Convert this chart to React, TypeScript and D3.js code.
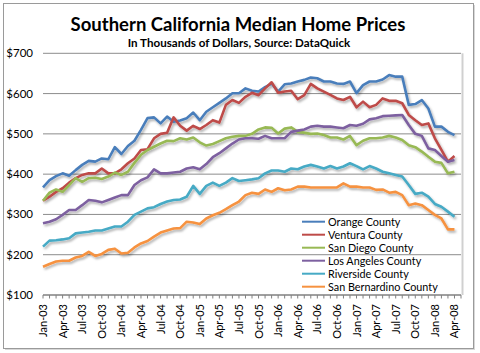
import React from 'react';
import * as d3 from 'd3';

// monthly categories Jan-03 .. May-08 (last one is empty on the axis)
const months: string[] = d3.timeMonth
  .range(new Date(2003, 0, 1), new Date(2008, 5, 1))
  .map(d3.timeFormat('%b-%y'));

const tickLabels = [
  'Jan-03', 'Apr-03', 'Jul-03', 'Oct-03', 'Jan-04', 'Apr-04', 'Jul-04', 'Oct-04',
  'Jan-05', 'Apr-05', 'Jul-05', 'Oct-05', 'Jan-06', 'Apr-06', 'Jul-06', 'Oct-06',
  'Jan-07', 'Apr-07', 'Jul-07', 'Oct-07', 'Jan-08', 'Apr-08',
];

const yTicks = [100, 200, 300, 400, 500, 600, 700];

const seriesNames = [
  'Orange County', 'Ventura County', 'San Diego County',
  'Los Angeles County', 'Riverside County', 'San Bernardino County',
];
const seriesColors = ['#4a7ebb', '#be4b48', '#98b954', '#7d60a0', '#46aac5', '#f69240'];

const orangeCounty = [
  367, 385, 395, 402, 396, 410, 423, 433, 431, 439, 437, 467, 450, 470, 483, 510, 539, 541, 526, 543, 530,
  533, 539, 553, 534, 555, 566, 577, 588, 601, 601, 613, 607, 605, 616, 625, 605, 623, 625, 630, 634, 640,
  638, 630, 630, 625, 624, 630, 601, 621, 630, 630, 635, 646, 642, 642, 572, 574, 584, 563, 518, 518, 505, 497,
];
const venturaCounty = [
  334, 344, 356, 365, 379, 390, 398, 402, 402, 414, 402, 402, 412, 427, 439, 460, 462, 489, 500, 503, 541,
  520, 508, 520, 512, 522, 534, 528, 572, 584, 577, 592, 602, 596, 613, 628, 602, 605, 607, 586, 596, 624,
  613, 605, 597, 588, 584, 592, 566, 580, 566, 572, 588, 582, 582, 576, 547, 534, 522, 526, 489, 460, 431, 445,
];
const sanDiegoCounty = [
  334, 354, 362, 356, 373, 390, 381, 390, 391, 388, 394, 404, 398, 406, 428, 448, 460, 468, 476, 483, 482,
  489, 486, 491, 479, 471, 475, 482, 489, 493, 495, 495, 500, 511, 516, 515, 501, 513, 516, 505, 503, 500,
  501, 497, 491, 491, 486, 495, 472, 483, 489, 489, 491, 495, 491, 485, 472, 467, 456, 443, 431, 428, 402, 406,
];
const losAngelesCounty = [
  278, 282, 288, 299, 311, 311, 323, 336, 334, 330, 336, 342, 348, 348, 373, 385, 392, 412, 402, 402, 404,
  406, 414, 417, 412, 425, 442, 452, 464, 476, 486, 489, 489, 488, 495, 489, 489, 489, 505, 508, 511, 518,
  520, 518, 518, 516, 514, 522, 520, 525, 536, 539, 544, 545, 546, 547, 522, 500, 495, 464, 460, 445, 431, 435,
];
const riversideCounty = [
  220, 235, 236, 238, 241, 253, 255, 257, 260, 260, 265, 270, 270, 282, 299, 307, 315, 318, 326, 332, 336,
  337, 344, 371, 351, 371, 379, 371, 379, 390, 383, 385, 387, 390, 402, 409, 409, 406, 414, 412, 419, 423,
  419, 414, 420, 414, 419, 427, 420, 412, 420, 414, 406, 402, 398, 394, 373, 351, 354, 344, 326, 319, 307, 294,
];
const sanBernardinoCounty = [
  170, 177, 183, 185, 185, 193, 197, 207, 197, 202, 212, 215, 203, 205, 218, 228, 234, 245, 255, 260, 265,
  266, 282, 280, 276, 290, 298, 304, 313, 323, 332, 348, 354, 351, 362, 356, 365, 360, 362, 369, 369, 367,
  367, 367, 367, 367, 377, 369, 369, 367, 367, 361, 362, 354, 356, 348, 323, 327, 323, 311, 299, 290, 263, 263,
];

const seriesValues = [
  orangeCounty, venturaCounty, sanDiegoCounty,
  losAngelesCounty, riversideCounty, sanBernardinoCounty,
];

const W = 480;
const H = 353;
const font = 'Lato, "Noto Sans", sans-serif';

export default function App() {
  const left = 43;
  const right = 461;
  const top = 53.3;
  const bottom = 295;

  const x = d3.scalePoint<string>().domain(months).range([left, right]);
  const y = d3.scaleLinear().domain([100, 700]).range([bottom, top]);

  const line = d3
    .line<number>()
    .x((_, i) => x(months[i]) ?? 0)
    .y(d => y(d));

  return (
    <svg
      width={W}
      height={H}
      style={{ position: 'absolute', left: 0, top: 0, background: '#fff' }}
      fontFamily={font}
    >
      <defs>
        <filter id="shadow" x="-5%" y="-5%" width="110%" height="120%">
          <feDropShadow dx="1.5" dy="2" stdDeviation="1.2" floodColor="#000" floodOpacity="0.3" />
        </filter>
      </defs>

      {/* chart frame */}
      <rect x={5} y={5} width={470} height={345} fill="#d8d8d8" />
      <rect x={3.5} y={3.5} width={470} height={345} fill="#fff" stroke="#9a9a9a" />

      {/* title */}
      <text x={238} y={31} textAnchor="middle" fontWeight="bold" fontSize={18.5} fill="#000">
        Southern California Median Home Prices
      </text>
      <text x={239} y={47} textAnchor="middle" fontWeight="bold" fontSize={11.6} fill="#000">
        In Thousands of Dollars, Source: DataQuick
      </text>

      {/* plot area edge */}
      <line x1={right + 1.5} x2={right + 1.5} y1={top} y2={bottom} stroke="#d0d0d0" strokeWidth={2} />

      {/* gridlines and y labels */}
      {yTicks.map(t => (
        <g key={t}>
          {t > 100 && (
            <line x1={left} x2={right} y1={y(t)} y2={y(t)} stroke="#8c8c8c" strokeWidth={1} />
          )}
          <text x={33} y={y(t) + 4} textAnchor="end" fontSize={11.5} fill="#000">
            ${t}
          </text>
        </g>
      ))}

      {/* x axis */}
      <line x1={left} x2={right} y1={bottom} y2={bottom} stroke="#808080" strokeWidth={1.5} />
      {months.map(m => (
        <line key={m} x1={x(m)} x2={x(m)} y1={bottom} y2={bottom + 3.5} stroke="#808080" />
      ))}
      {tickLabels.map(m => (
        <text
          key={m}
          transform={`translate(${(x(m) ?? 0) + 4},${bottom + 9}) rotate(-90)`}
          textAnchor="end"
          fontSize={11}
          fill="#000"
        >
          {m}
        </text>
      ))}

      {/* series */}
      <g filter="url(#shadow)">
        {seriesValues.map((vals, k) => (
          <path
            key={seriesNames[k]}
            d={line(vals) ?? ''}
            fill="none"
            stroke={seriesColors[k]}
            strokeWidth={2.6}
            strokeLinejoin="round"
          />
        ))}
      </g>

      {/* legend */}
      {seriesNames.map((name, k) => (
        <g key={name} transform={`translate(302,${221.7 + k * 13})`}>
          <line x1={0} x2={23} y1={0} y2={0} stroke={seriesColors[k]} strokeWidth={2} />
          <text x={26} y={4} fontSize={10.8} fill="#000">
            {name}
          </text>
        </g>
      ))}
    </svg>
  );
}
